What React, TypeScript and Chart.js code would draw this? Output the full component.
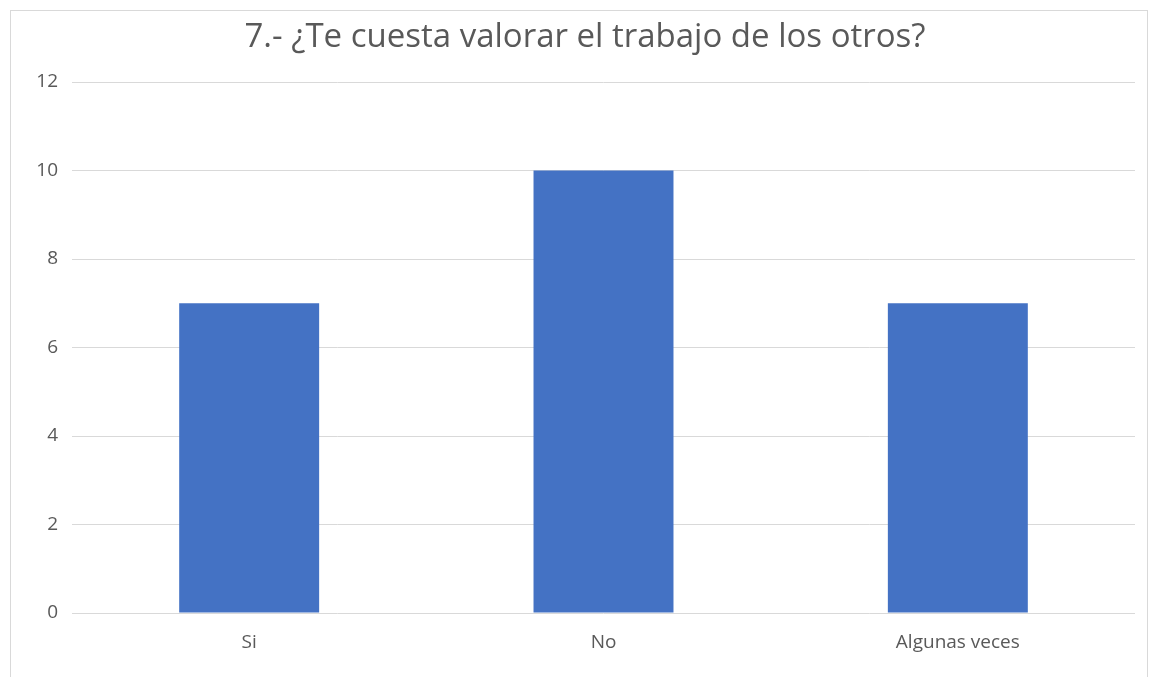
import React, { useEffect, useRef } from "react";
import { Chart, registerables } from "chart.js";

Chart.register(...registerables);

const categories = ["Si", "No", "Algunas veces"];
const values = [7, 10, 7];
const titleText = "7.- ¿Te cuesta valorar el trabajo de los otros?";

export default function App() {
  const ref = useRef<HTMLCanvasElement | null>(null);
  useEffect(() => {
    if (!ref.current) return;
    const chart = new Chart(ref.current, {
      type: "bar",
      data: {
        labels: categories,
        datasets: [
          {
            data: values,
            backgroundColor: "#4472c4",
            borderWidth: 0,
            categoryPercentage: 1,
            barPercentage: 0.395,
          },
        ],
      },
      options: {
        animation: false,
        responsive: false,
        maintainAspectRatio: false,
        layout: { padding: { left: 35, right: 15, top: 0, bottom: 0 } },
        plugins: {
          legend: { display: false },
          tooltip: { enabled: false },
          title: {
            display: true,
            text: titleText,
            color: "#595959",
            font: { family: "'Open Sans', sans-serif", size: 33, weight: "normal", lineHeight: 1.2 },
            padding: { top: 18, bottom: 24.4 },
          },
        },
        scales: {
          x: {
            grid: { display: false, drawTicks: false },
            border: { display: false },
            ticks: {
              color: "#595959",
              font: { family: "'Open Sans', sans-serif", size: 19 },
              padding: 18,
            },
            afterFit: (s: any) => {
              s.height = 64;
            },
          },
          y: {
            min: 0,
            max: 12,
            ticks: {
              stepSize: 2,
              color: "#595959",
              font: { family: "'Open Sans', sans-serif", size: 19 },
              padding: 14,
            },
            grid: { color: "#d9d9d9", lineWidth: 1, drawTicks: false },
            border: { display: false },
            afterFit: (s: any) => {
              s.width = 37;
            },
          },
        },
      },
    });
    return () => chart.destroy();
  }, []);
  return (
    <div style={{ position: "absolute", left: 0, top: 0, width: 1150, height: 677, background: "#fff", overflow: "hidden" }}>
      <div
        style={{
          position: "absolute",
          left: 10,
          top: 10,
          width: 1138,
          height: 700,
          border: "1px solid #d9d9d9",
          boxSizing: "border-box",
        }}
      />
      <canvas ref={ref} width={1150} height={677} style={{ position: "absolute", left: 0, top: 0 }} />
    </div>
  );
}
